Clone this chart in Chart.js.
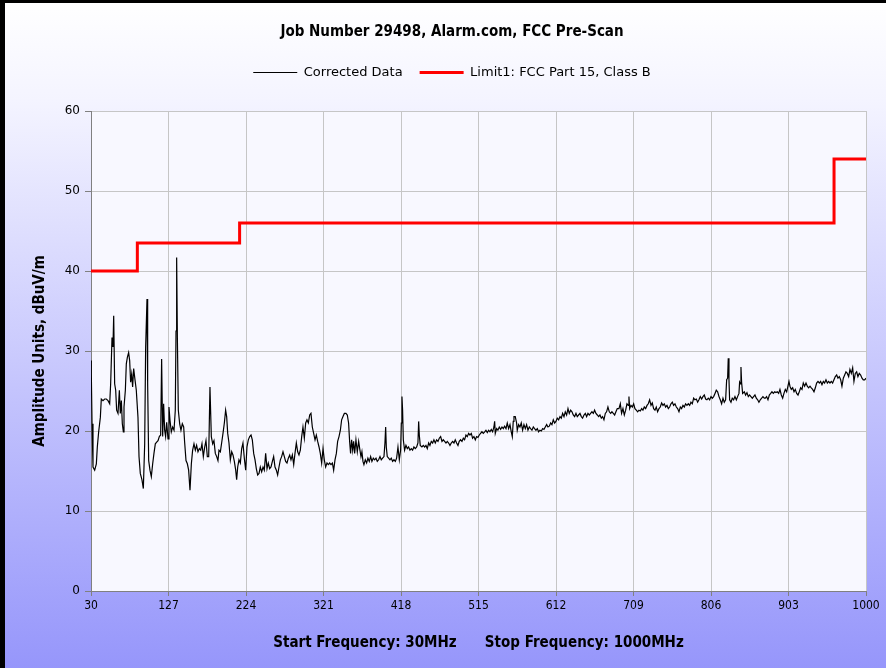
<!DOCTYPE html>
<html>
<head>
<meta charset="utf-8">
<title>Job Number 29498 - FCC Pre-Scan</title>
<script src="https://cdn.jsdelivr.net/npm/chart.js@4.4.1/dist/chart.umd.min.js"></script>
<style>
  html, body { margin: 0; padding: 0; background: #fff; }
  #frame {
    position: relative; width: 886px; height: 668px; overflow: hidden;
    background: linear-gradient(to bottom, #ffffff 0%, #f4f4ff 15%, #9696fb 100%);
  }
  #frame::after {
    content: ''; position: absolute; inset: 0; pointer-events: none;
    border-left: 5px solid #000; border-top: 3px solid #000;
  }
  #scan { position: absolute; left: 0; top: 0; }
</style>
</head>
<body>
<div id="frame"><canvas id="scan" width="886" height="668"></canvas></div>
<script>
// ── Data ──────────────────────────────────────────────────────────────────────

const chartTitle   = 'Job Number 29498, Alarm.com, FCC Pre-Scan';
const seriesLabels = ['Corrected Data', 'Limit1: FCC Part 15, Class B'];
const xTitle       = 'Start Frequency: 30MHz      Stop Frequency: 1000MHz';
const yTitle       = 'Amplitude Units, dBuV/m';

const xTickValues = [30, 127, 224, 321, 418, 515, 612, 709, 806, 903, 1000];
const yTickValues = [0, 10, 20, 30, 40, 50, 60];

// measured trace, MHz
const traceFreq = [
  // 30 - 189
  30.0, 30.4, 31.3, 32.5, 34.6, 36.7, 37.9, 39.6, 41.7, 42.9,
  45.0, 47.1, 49.2, 51.3, 53.4, 54.6, 56.3, 57.5, 58.4, 59.6,
  60.9, 62.1, 63.8, 65.5, 66.7, 68.0, 69.2, 70.5, 71.3, 73.0,
  74.2, 75.5, 77.1, 78.4, 79.6, 80.9, 82.1, 83.4, 84.7, 86.7,
  88.8, 90.1, 91.7, 93.8, 95.5, 97.2, 98.4, 100.1, 100.9, 102.2,
  103.8, 105.5, 107.2, 108.8, 110.5, 112.2, 113.9, 115.5, 117.2, 118.4,
  119.7, 120.9, 122.2, 123.4, 124.7, 126.4, 127.6, 128.9, 130.5, 132.2,
  133.9, 135.5, 136.4, 137.2, 138.1, 139.3, 141.0, 142.6, 144.3, 146.0,
  147.2, 148.9, 150.6, 152.2, 153.9, 155.6, 157.2, 158.9, 160.6, 162.2,
  163.9, 165.6, 167.3, 168.9, 170.6, 172.3, 173.9, 175.6, 177.3, 178.9,
  180.6, 182.3, 183.9, 185.6, 187.3, 188.9,
  // 190 - 347
  190.2, 191.9, 193.5, 195.2, 196.9, 198.5, 199.8, 201.1, 202.7, 204.4,
  206.1, 207.7, 209.4, 211.1, 212.3, 213.6, 215.2, 216.9, 218.6, 220.2,
  221.9, 223.6, 225.2, 226.9, 228.6, 230.3, 231.9, 233.6, 235.3, 236.9,
  238.6, 240.3, 241.9, 243.6, 245.3, 246.9, 248.6, 250.3, 251.9, 253.6,
  255.3, 257.0, 258.6, 260.3, 262.0, 263.6, 265.3, 267.0, 268.6, 270.3,
  272.0, 273.6, 275.3, 277.0, 278.7, 280.3, 282.0, 283.7, 285.3, 287.0,
  288.7, 290.3, 292.0, 293.7, 295.3, 297.0, 298.7, 300.3, 302.0, 303.7,
  305.3, 307.0, 308.7, 310.4, 312.0, 313.7, 315.4, 317.0, 318.7, 320.4,
  322.0, 323.7, 325.4, 327.0, 328.7, 330.4, 332.1, 333.7, 335.4, 337.1,
  338.7, 340.4, 342.1, 343.7, 345.4, 347.1,
  // 349 - 506
  349.1, 350.8, 352.4, 353.7, 354.9, 356.2, 357.5, 358.7, 360.0, 361.6,
  363.3, 365.0, 366.6, 367.9, 369.1, 370.4, 371.6, 373.3, 375.0, 376.6,
  378.3, 380.0, 381.6, 383.3, 385.0, 386.7, 388.3, 390.0, 391.7, 393.3,
  395.0, 396.7, 397.9, 398.8, 399.6, 400.8, 402.5, 404.2, 405.8, 407.5,
  409.2, 410.9, 412.5, 414.2, 415.9, 417.5, 418.4, 419.2, 420.0, 420.9,
  422.5, 424.2, 425.9, 427.5, 429.2, 430.9, 432.5, 434.2, 435.9, 437.6,
  439.2, 440.1, 440.9, 442.1, 444.2, 445.9, 447.6, 449.2, 450.9, 452.6,
  454.2, 455.9, 457.6, 459.2, 460.9, 462.6, 464.3, 465.9, 467.6, 469.3,
  470.9, 472.6, 474.3, 475.9, 477.6, 479.3, 480.9, 482.6, 484.3, 485.9,
  487.6, 489.3, 490.9, 492.6, 494.3, 496.0, 497.6, 499.3, 501.0, 502.6,
  504.3, 506.0,
  // 507 - 689
  507.6, 509.3, 511.0, 512.6, 514.3, 516.0, 517.6, 519.3, 521.0, 522.7,
  524.3, 526.0, 527.7, 529.3, 531.0, 532.7, 534.3, 535.2, 536.0, 537.7,
  539.3, 541.0, 542.7, 544.4, 546.0, 547.7, 549.4, 551.0, 552.7, 554.4,
  556.0, 557.3, 558.5, 559.4, 561.0, 562.7, 563.5, 565.2, 566.9, 568.5,
  570.2, 571.9, 573.6, 575.2, 576.9, 578.6, 580.2, 581.9, 583.6, 585.2,
  586.9, 588.6, 590.2, 591.9, 593.6, 595.3, 596.9, 598.6, 600.3, 601.9,
  603.6, 605.3, 606.9, 608.6, 610.3, 611.9, 613.6, 615.3, 617.0, 618.6,
  620.3, 622.0, 623.6, 625.3, 627.0, 628.6, 630.3, 632.0, 633.6, 635.3,
  637.0, 638.6, 640.3, 642.0, 643.7, 645.3, 647.0, 648.7, 650.3, 652.0,
  653.7, 655.3, 657.0, 658.7, 660.3, 662.0, 663.7, 665.3, 667.0, 668.7,
  670.3, 672.0, 673.7, 675.3, 677.0, 678.7, 680.4, 682.0, 683.7, 685.4,
  687.0, 688.7,
  // 690 - 873
  690.8, 692.5, 694.1, 695.8, 697.5, 699.2, 700.8, 702.5, 703.3, 704.2,
  705.8, 707.5, 709.2, 710.8, 712.5, 714.2, 715.8, 717.5, 719.2, 720.8,
  722.5, 724.2, 725.9, 727.5, 729.2, 730.9, 732.5, 734.2, 735.9, 737.5,
  739.2, 740.9, 742.5, 744.2, 745.9, 747.5, 749.2, 750.9, 752.6, 754.2,
  755.9, 757.6, 759.2, 760.9, 762.6, 764.2, 765.9, 767.6, 769.2, 770.9,
  772.6, 774.2, 775.9, 777.6, 779.3, 780.9, 782.6, 784.3, 785.9, 787.6,
  789.3, 790.9, 792.6, 794.3, 795.9, 797.6, 799.3, 800.9, 802.6, 804.3,
  806.0, 807.6, 809.3, 811.0, 812.6, 814.3, 816.0, 817.6, 819.3, 821.0,
  822.6, 824.3, 825.6, 826.8, 827.6, 828.5, 829.3, 831.0, 832.6, 834.3,
  836.0, 837.7, 839.3, 841.0, 841.8, 842.7, 843.5, 844.3, 845.6, 847.7,
  849.3, 851.0, 852.7, 854.3, 856.0, 857.7, 859.3, 861.0, 862.7, 864.4,
  866.0, 867.7, 869.4, 871.0, 872.7,
  // 874 - 1000
  874.0, 875.6, 877.3, 879.0, 880.7, 882.3, 884.0, 885.7, 887.3, 889.0,
  890.7, 892.3, 894.0, 895.7, 897.3, 899.0, 900.7, 902.3, 903.6, 904.8,
  906.5, 908.2, 909.9, 911.5, 913.2, 914.9, 916.5, 918.2, 919.9, 921.5,
  923.2, 924.9, 926.5, 928.2, 929.9, 931.5, 933.2, 934.9, 936.6, 938.2,
  939.9, 941.6, 943.2, 944.9, 946.6, 948.2, 949.9, 951.6, 953.2, 954.9,
  956.6, 958.2, 959.9, 961.6, 963.3, 964.9, 966.6, 968.3, 969.9, 971.6,
  973.3, 974.9, 976.6, 978.3, 979.9, 981.6, 983.3, 984.9, 986.6, 988.3,
  989.9, 991.6, 993.3, 995.0, 996.6, 998.3, 1000.0,
];

// measured trace, dBuV/m (same order as traceFreq)
const traceAmp = [
  // 30 - 189
  28.8, 27.1, 20.9, 15.5, 15.1, 15.9, 18.0, 19.9, 21.7, 24.0,
  23.8, 24.0, 24.0, 23.8, 23.4, 25.9, 31.7, 30.5, 34.4, 25.9,
  25.1, 22.6, 22.2, 25.1, 22.2, 23.8, 20.9, 19.9, 23.0, 25.1,
  28.4, 29.2, 29.8, 28.8, 26.1, 27.1, 25.5, 27.8, 26.7, 25.1,
  21.7, 16.8, 14.7, 13.9, 12.8, 18.4, 30.5, 36.5, 25.9, 16.3,
  15.1, 14.3, 15.9, 17.2, 18.4, 18.6, 18.8, 19.3, 19.5, 29.0,
  19.3, 23.4, 20.1, 19.3, 21.1, 19.0, 23.0, 21.3, 19.9, 20.5,
  20.1, 22.6, 32.5, 41.7, 31.7, 22.6, 20.9, 20.1, 20.9, 20.5,
  18.6, 16.3, 15.9, 15.1, 12.6, 15.9, 17.6, 18.4, 17.6, 18.2,
  17.4, 17.8, 17.6, 18.4, 16.8, 18.0, 18.8, 16.8, 16.8, 25.5,
  19.3, 18.4, 18.8, 17.2, 16.8, 16.3,
  // 190 - 347
  17.6, 17.4, 18.5, 19.7, 21.0, 22.6, 21.8, 19.7, 18.5, 16.4,
  17.4, 17.0, 16.2, 15.1, 13.9, 15.5, 16.4, 16.0, 17.8, 18.5,
  16.6, 15.1, 18.0, 18.9, 19.3, 19.5, 18.9, 17.2, 16.4, 15.3,
  14.5, 14.7, 15.5, 14.9, 15.5, 15.1, 17.2, 15.3, 16.0, 15.3,
  15.5, 16.2, 16.8, 15.5, 15.1, 14.5, 15.5, 16.4, 16.8, 17.4,
  16.8, 16.2, 16.0, 16.6, 17.0, 16.4, 17.0, 15.8, 17.2, 18.5,
  17.4, 17.0, 17.6, 19.3, 20.5, 19.1, 21.0, 21.4, 21.0, 22.0,
  22.2, 20.5, 19.7, 18.9, 19.5, 18.7, 18.0, 17.2, 16.0, 17.8,
  16.4, 15.5, 16.0, 15.8, 16.0, 15.8, 16.0, 15.1, 16.4, 17.2,
  18.7, 19.3, 20.1, 21.4, 21.8, 22.2,
  // 349 - 506
  22.2, 22.0, 21.0, 18.7, 17.2, 18.9, 17.6, 18.7, 17.2, 18.9,
  17.4, 18.7, 17.6, 16.8, 17.4, 16.2, 15.8, 16.4, 16.0, 16.6,
  16.2, 16.8, 16.2, 16.6, 16.4, 16.6, 16.2, 16.4, 16.8, 16.4,
  16.6, 16.8, 18.5, 20.5, 18.0, 16.8, 16.6, 16.4, 16.6, 16.2,
  16.4, 16.2, 16.6, 18.0, 16.4, 17.6, 21.0, 24.3, 22.6, 18.9,
  17.6, 18.2, 17.8, 18.0, 17.6, 17.8, 17.6, 18.0, 17.8, 18.0,
  18.5, 21.2, 19.5, 18.2, 18.0, 18.2, 18.0, 18.2, 17.8, 18.5,
  18.2, 18.7, 18.5, 18.9, 18.5, 18.9, 18.7, 19.1, 19.3, 18.7,
  18.9, 18.7, 18.5, 18.7, 18.5, 18.2, 18.5, 18.7, 18.5, 18.9,
  18.5, 18.2, 18.7, 18.9, 18.7, 19.1, 18.9, 19.5, 19.3, 19.7,
  19.5, 19.7,
  // 507 - 689
  19.1, 19.3, 18.9, 19.3, 19.2, 19.5, 19.7, 19.9, 19.7, 19.9,
  20.1, 19.8, 20.1, 19.9, 20.2, 19.9, 20.5, 21.2, 19.7, 20.3,
  20.1, 20.5, 20.2, 20.5, 20.3, 20.6, 20.3, 21.0, 20.3, 20.8,
  19.9, 19.3, 21.2, 21.8, 21.8, 21.0, 20.1, 20.8, 20.5, 21.0,
  20.1, 20.8, 20.3, 20.8, 20.1, 20.5, 20.3, 20.1, 20.5, 20.3,
  20.1, 20.3, 19.9, 20.1, 20.0, 20.3, 20.2, 20.5, 20.8, 20.5,
  20.6, 21.0, 20.8, 21.4, 21.0, 21.2, 21.6, 21.4, 21.8, 21.6,
  22.2, 21.8, 22.4, 22.0, 22.8, 22.2, 22.6, 22.4, 22.0, 21.8,
  22.2, 21.8, 22.0, 22.2, 21.8, 21.6, 22.0, 22.2, 21.8, 22.2,
  22.0, 22.2, 22.4, 22.2, 22.6, 22.2, 22.0, 21.8, 22.0, 21.6,
  21.8, 21.4, 22.2, 22.4, 23.0, 22.4, 22.2, 22.4, 22.2, 22.0,
  22.4, 22.8,
  // 690 - 873
  22.8, 23.4, 22.2, 22.8, 22.0, 22.6, 23.4, 23.2, 24.3, 22.8,
  23.2, 23.0, 23.4, 22.8, 22.6, 22.4, 22.6, 22.5, 22.8, 22.6,
  23.0, 22.8, 23.2, 23.4, 23.9, 23.2, 23.5, 22.8, 22.6, 23.0,
  22.4, 22.8, 23.0, 23.5, 23.2, 23.4, 23.0, 23.2, 22.8, 23.0,
  23.4, 23.6, 23.2, 23.4, 23.0, 22.8, 22.4, 23.0, 22.8, 23.2,
  23.0, 23.4, 23.2, 23.4, 23.2, 23.6, 23.4, 24.1, 23.9, 24.0,
  23.6, 23.9, 24.3, 24.0, 24.3, 24.5, 24.0, 23.9, 24.1, 23.9,
  24.3, 24.1, 24.3, 24.7, 25.1, 24.9, 24.3, 23.9, 23.4, 24.1,
  23.6, 23.9, 26.4, 26.6, 29.1, 26.4, 23.9, 23.6, 24.1, 23.9,
  24.3, 23.9, 24.3, 24.7, 26.1, 25.9, 28.0, 26.1, 24.7, 24.9,
  24.5, 24.8, 24.3, 24.5, 24.3, 24.1, 24.3, 24.5, 24.1, 23.9,
  23.6, 23.9, 24.1, 24.3, 24.1,
  // 874 - 1000
  24.1, 24.3, 23.9, 24.5, 24.7, 24.9, 24.7, 24.9, 24.8, 24.9,
  24.7, 25.2, 24.5, 24.1, 24.7, 25.2, 24.9, 25.6, 26.2, 25.6,
  25.2, 25.4, 24.9, 25.2, 24.7, 24.5, 24.9, 25.4, 25.2, 26.0,
  25.6, 26.0, 25.6, 25.4, 25.6, 25.4, 25.2, 24.9, 25.4, 26.0,
  26.2, 26.0, 26.2, 25.8, 26.2, 26.0, 26.4, 26.0, 26.2, 26.0,
  26.2, 26.0, 26.4, 26.8, 27.0, 26.6, 26.8, 26.4, 25.6, 26.6,
  27.0, 27.4, 27.2, 26.8, 27.7, 27.2, 27.9, 26.2, 27.2, 27.4,
  26.8, 27.2, 27.0, 26.6, 26.4, 26.4, 26.6,
];

// FCC Part 15 Class B limit, step changes (MHz / dBuV/m)
const limitFreq  = [30, 88, 216, 960, 1000];
const limitLevel = [40, 43.5, 46, 54, 54];

// ── Styling ───────────────────────────────────────────────────────────────────

const FONT_BOLD  = 'DejaVu Sans Condensed, DejaVu Sans, sans-serif';
const FONT_PLAIN = 'DejaVu Sans, sans-serif';
const GRID_COLOR = '#c6c6c6';
const AXIS_COLOR = '#808080';

/** Fills the plot area with the pale lavender used by the original. */
const plotBackground = {
  id: 'plotBackground',
  beforeDraw(chart) {
    const { ctx, chartArea: a } = chart;
    ctx.save();
    ctx.fillStyle = '#f8f8ff';
    ctx.fillRect(a.left, a.top, a.width, a.height);
    ctx.restore();
  },
};

// invisible layout strip; only reserves space next to the plot
const spacer = (position, size) => ({
  position, display: true,
  grid: { display: false }, border: { display: false }, ticks: { display: false },
  afterFit: ax => { if (ax.isHorizontal()) ax.height = size; else ax.width = size; },
});

const toPoints = (xs, ys) => xs.map((x, i) => ({ x, y: ys[i] }));

new Chart(document.getElementById('scan'), {
  type: 'line',
  data: {
    datasets: [
      { label: seriesLabels[0], data: toPoints(traceFreq, traceAmp),
        borderColor: '#000', backgroundColor: '#000', borderWidth: 1.2, pointRadius: 0, tension: 0 },
      { label: seriesLabels[1], data: toPoints(limitFreq, limitLevel),
        borderColor: '#ff0000', backgroundColor: '#ff0000', borderWidth: 3, pointRadius: 0, stepped: 'before' },
    ],
  },
  options: {
    responsive: false, animation: false, devicePixelRatio: 1,
    layout: { padding: { left: 18, right: 0, top: 0, bottom: 0 } },
    plugins: {
      title: {
        display: true, text: chartTitle, color: '#000',
        font: { family: FONT_BOLD, size: 15, weight: 'bold' },
        padding: { top: 23, bottom: 8 },
      },
      legend: {
        position: 'top',
        labels: {
          color: '#000', font: { family: FONT_PLAIN, size: 13 },
          usePointStyle: true, pointStyle: 'line', pointStyleWidth: 44, boxHeight: 13, padding: 17,
        },
      },
      tooltip: { enabled: false },
    },
    scales: {
      x: {
        type: 'linear', min: 30, max: 1000,
        afterBuildTicks: ax => { ax.ticks = xTickValues.map(v => ({ value: v })); },
        afterFit: ax => { ax.height = 77; },
        grid:   { color: GRID_COLOR, tickColor: AXIS_COLOR, tickLength: 5 },
        border: { color: AXIS_COLOR },
        ticks:  { color: '#000', font: { family: FONT_BOLD, size: 12 }, padding: 3,
                  maxRotation: 0, autoSkip: false, callback: v => String(v) },
        title:  { display: true, text: xTitle, color: '#000',
                  font: { family: FONT_BOLD, size: 15, weight: 'bold' }, padding: { top: 20, bottom: 16 } },
      },
      y: {
        min: 0, max: 60,
        afterBuildTicks: ax => { ax.ticks = yTickValues.map(v => ({ value: v })); },
        afterFit: ax => { ax.width = 73; },
        grid:   { color: GRID_COLOR, tickColor: AXIS_COLOR, tickLength: 6 },
        border: { color: AXIS_COLOR },
        ticks:  { color: '#000', font: { family: FONT_PLAIN, size: 12 }, padding: 5 },
        title:  { display: true, text: yTitle, color: '#000',
                  font: { family: FONT_BOLD, size: 15, weight: 'bold' }, padding: { top: 13, bottom: 0 } },
      },
      // plot ends at 866px while title and legend centre on the full width
      padRight: spacer('right', 20),
      // gap between legend and plot top (plot starts at 111px)
      padTop: spacer('top', 22),
    },
  },
  plugins: [plotBackground],
});
</script>
</body>
</html>
